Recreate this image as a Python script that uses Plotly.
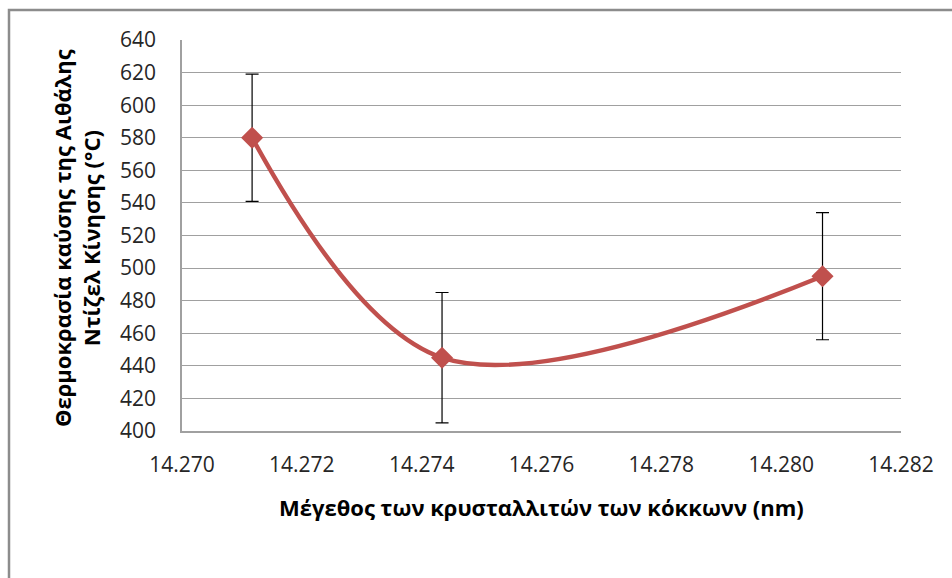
import plotly.graph_objects as go

crystallite_nm = [14.27117, 14.27434, 14.28069]
temperature_c = [580, 445, 495]
temp_error = [39, 40, 39]
x_ticks = [14.270, 14.272, 14.274, 14.276, 14.278, 14.280, 14.282]
x_tick_labels = ["14.270", "14.272", "14.274", "14.276", "14.278", "14.280", "14.282"]
y_ticks = list(range(400, 641, 20))

x_title = "Μέγεθος των κρυσταλλιτών των κόκκωνν (nm)"
y_title_lines = ["Θερμοκρασία καύσης της Αιθάλης", "Ντίζελ Κίνησης (°C)"]

W, H = 952, 578
L, R, T, B = 182, 51, 40, 147
pw, ph = W - L - R, H - T - B

fig = go.Figure()
fig.add_trace(go.Scatter(
    x=crystallite_nm, y=temperature_c,
    mode="lines+markers",
    line=dict(color="#c0504d", width=4.5, shape="spline", smoothing=1.0),
    marker=dict(symbol="diamond", size=17, color="#c0504d"),
    error_y=dict(type="data", array=temp_error, visible=True,
                 color="#000000", thickness=1.2, width=6.5),
    showlegend=False,
))

tick_font = dict(family="Open Sans", size=21, color="#262626")
fig.update_layout(
    width=W, height=H,
    margin=dict(l=L, r=R, t=T, b=B),
    paper_bgcolor="white", plot_bgcolor="white",
    xaxis=dict(range=[14.270, 14.282], tickvals=x_ticks, ticktext=x_tick_labels,
               showgrid=False, zeroline=False, showline=True, linecolor="#a0a0a0",
               linewidth=1.5, ticks="", tickfont=tick_font, ticklabelstandoff=14),
    yaxis=dict(range=[400, 640], tickvals=y_ticks, showgrid=True, gridcolor="#a0a0a0",
               gridwidth=1.3, zeroline=False, showline=True, linecolor="#a0a0a0",
               linewidth=1.5, ticks="", tickfont=tick_font, ticklabelstandoff=20),
    font=dict(family="Open Sans"),
)

fig.add_annotation(
    text="<b>" + x_title + "</b>", xref="paper", yref="paper",
    x=0.5, y=(431 - 507) / ph, xanchor="center", yanchor="middle",
    showarrow=False, font=dict(family="Open Sans", size=22, color="#000000"),
)
fig.add_annotation(
    text="<br>".join("<b>" + s + "</b>" for s in y_title_lines),
    xref="paper", yref="paper",
    x=(76 - L) / pw, y=(431 - 238) / ph, xanchor="center", yanchor="middle",
    textangle=-90, showarrow=False,
    font=dict(family="Open Sans", size=22, color="#000000"),
)

# outer chart border (only top and left visible)
fig.add_shape(type="rect", xref="paper", yref="paper",
              x0=(9 - L) / pw, x1=(W + 20 - L) / pw,
              y0=(431 - (H + 20)) / ph, y1=(431 - 10) / ph,
              line=dict(color="#8c8c8c", width=2.5), layer="below")

fig.write_html("out.html")
